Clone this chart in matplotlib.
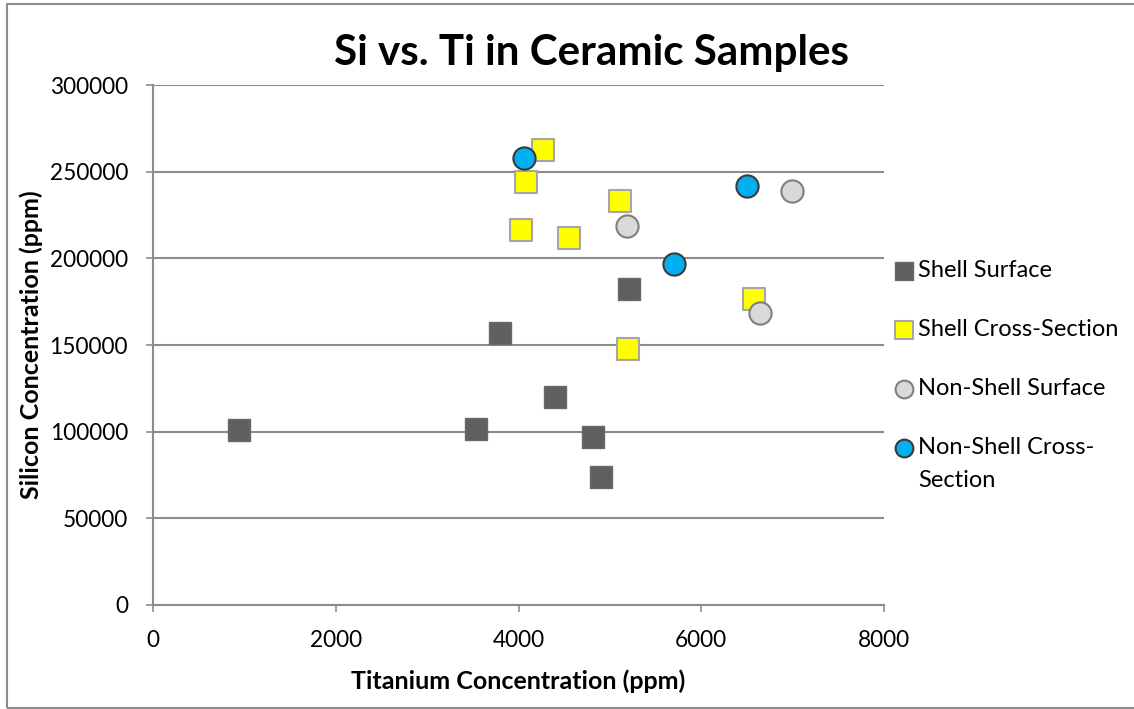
import numpy as np
import matplotlib
matplotlib.use('Agg')
import matplotlib.pyplot as plt
from matplotlib.patches import Rectangle

plt.rcParams['font.family'] = ['Lato', 'DejaVu Sans']

# data (ppm)
shell_surf_ti = [938, 3537, 3799, 4396, 4815, 4904, 5208]
shell_surf_si = [101000, 101400, 156900, 120200, 97000, 73600, 182300]

shell_cross_ti = [4270, 4087, 4024, 4548, 5109, 6576, 5198]
shell_cross_si = [262500, 244000, 216500, 211900, 233300, 176400, 147600]

nonshell_surf_ti = [5182, 6995, 6644]
nonshell_surf_si = [218800, 238900, 168400]

nonshell_cross_ti = [4056, 6497, 5706]
nonshell_cross_si = [257900, 241800, 197000]

x_ticks = [0, 2000, 4000, 6000, 8000]
y_ticks = [0, 50000, 100000, 150000, 200000, 250000, 300000]

GRID = '#8c8c8c'

fig = plt.figure(figsize=(11.34, 7.09), dpi=100)
ax = fig.add_axes([0.135, 0.1467, 0.6445, 0.7333])

ms = 16
ax.scatter(shell_surf_ti, shell_surf_si, marker='s', s=ms ** 2, color='#5f5f5f',
           edgecolors='#6a6a6a', linewidths=1, label='Shell Surface', zorder=3)
ax.scatter(shell_cross_ti, shell_cross_si, marker='s', s=ms ** 2, color='#ffff00',
           edgecolors='#a6a6a6', linewidths=1.5, label='Shell Cross-Section', zorder=3)
ax.scatter(nonshell_surf_ti, nonshell_surf_si, marker='o', s=ms ** 2, color='#d9d9d9',
           edgecolors='#7f7f7f', linewidths=1.5, label='Non-Shell Surface', zorder=3)
ax.scatter(nonshell_cross_ti, nonshell_cross_si, marker='o', s=ms ** 2, color='#00b0f0',
           edgecolors='#3a3a3a', linewidths=1.5, label='Non-Shell Cross-', zorder=3)

ax.set_xlim(0, 8000)
ax.set_ylim(0, 300000)
ax.set_xticks(x_ticks)
ax.set_yticks(y_ticks)
ax.tick_params(axis='both', labelsize=16.3, color=GRID, length=5, width=1.2)
ax.tick_params(axis='y', pad=13)
ax.tick_params(axis='x', pad=13)
ax.grid(axis='y', color=GRID, linewidth=1.5)
ax.set_axisbelow(True)
for side in ('top', 'right'):
    ax.spines[side].set_visible(False)
for side in ('left', 'bottom'):
    ax.spines[side].set_color(GRID)
    ax.spines[side].set_linewidth(1.5)

ax.set_xlabel('Titanium Concentration (ppm)', fontsize=18, fontweight='bold', labelpad=13)
ax.set_ylabel('Silicon Concentration (ppm)', fontsize=18, fontweight='bold', labelpad=5)
fig.text(0.522, 0.925, 'Si vs. Ti in Ceramic Samples', fontsize=30.3, fontweight='bold',
         ha='center', va='center')

leg = ax.legend(loc='center left', bbox_to_anchor=(1.001, 0.473), frameon=False, fontsize=17,
                handletextpad=0.2, labelspacing=1.6, markerscale=0.8, handlelength=0.8,
                borderaxespad=0)
# second line of the last legend label sits under the first, marker stays on line one
ax.annotate('Section', xy=(0, 0), xycoords=leg.get_texts()[3], xytext=(0, -8.5),
            textcoords='offset points', fontsize=17, va='top', ha='left', zorder=10)

fig.patches.append(Rectangle((0.0066, 0.002), 1.2, 0.9924, transform=fig.transFigure,
                             fill=False, edgecolor='#8c8c8c', linewidth=1.5))

fig.savefig('out.png', dpi=100)
